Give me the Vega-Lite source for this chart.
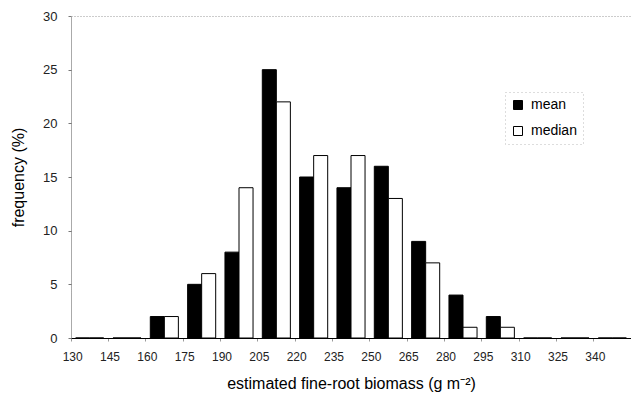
{
  "$schema": "https://vega.github.io/schema/vega-lite/v6.json",
  "width": 560,
  "height": 322,
  "autosize": {"type": "none"},
  "padding": {"left": 71, "top": 16, "right": 0, "bottom": 75},
  "background": "white",
  "data": {
    "values": [
      {"bin": 130, "stat": "mean", "frequency": 0}, {"bin": 130, "stat": "median", "frequency": 0},
      {"bin": 145, "stat": "mean", "frequency": 0}, {"bin": 145, "stat": "median", "frequency": 0},
      {"bin": 160, "stat": "mean", "frequency": 2}, {"bin": 160, "stat": "median", "frequency": 2},
      {"bin": 175, "stat": "mean", "frequency": 5}, {"bin": 175, "stat": "median", "frequency": 6},
      {"bin": 190, "stat": "mean", "frequency": 8}, {"bin": 190, "stat": "median", "frequency": 14},
      {"bin": 205, "stat": "mean", "frequency": 25}, {"bin": 205, "stat": "median", "frequency": 22},
      {"bin": 220, "stat": "mean", "frequency": 15}, {"bin": 220, "stat": "median", "frequency": 17},
      {"bin": 235, "stat": "mean", "frequency": 14}, {"bin": 235, "stat": "median", "frequency": 17},
      {"bin": 250, "stat": "mean", "frequency": 16}, {"bin": 250, "stat": "median", "frequency": 13},
      {"bin": 265, "stat": "mean", "frequency": 9}, {"bin": 265, "stat": "median", "frequency": 7},
      {"bin": 280, "stat": "mean", "frequency": 4}, {"bin": 280, "stat": "median", "frequency": 1},
      {"bin": 295, "stat": "mean", "frequency": 2}, {"bin": 295, "stat": "median", "frequency": 1},
      {"bin": 310, "stat": "mean", "frequency": 0}, {"bin": 310, "stat": "median", "frequency": 0},
      {"bin": 325, "stat": "mean", "frequency": 0}, {"bin": 325, "stat": "median", "frequency": 0},
      {"bin": 340, "stat": "mean", "frequency": 0}, {"bin": 340, "stat": "median", "frequency": 0}
    ]
  },
  "mark": {"type": "bar", "stroke": "black", "strokeWidth": 1},
  "encoding": {
    "x": {
      "field": "bin",
      "type": "ordinal",
      "sort": "ascending",
      "scale": {"paddingInner": 0, "paddingOuter": 0},
      "axis": {
        "title": "estimated fine-root biomass (g m⁻²)",
        "titleFontSize": 16,
        "titleFontWeight": "normal",
        "titleFont": "Liberation Sans",
        "titleColor": "black",
        "titlePadding": 13,
        "bandPosition": 0,
        "labelAngle": 0,
        "labelOffset": -17,
        "labelFont": "Liberation Sans",
        "labelFontSize": 12,
        "labelColor": "#222",
        "labelPadding": 10,
        "tickSize": 3,
        "tickColor": "#999",
        "domainColor": "black",
        "domainWidth": 1,
        "grid": false
      }
    },
    "xOffset": {
      "field": "stat",
      "type": "nominal",
      "sort": ["mean", "median"],
      "scale": {"paddingInner": 0, "paddingOuter": 0.33}
    },
    "y": {
      "field": "frequency",
      "type": "quantitative",
      "scale": {"domain": [0, 30], "nice": false},
      "axis": {
        "title": "frequency (%)",
        "titleFontSize": 16,
        "titleFontWeight": "normal",
        "titleFont": "Liberation Sans",
        "titleColor": "black",
        "titlePadding": 16,
        "values": [0, 5, 10, 15, 20, 25, 30],
        "labelFont": "Liberation Sans",
        "labelFontSize": 13,
        "labelColor": "#222",
        "labelPadding": 11,
        "tickSize": 3,
        "tickColor": "#777",
        "domainColor": "#555",
        "domainDash": [1, 1],
        "grid": true,
        "gridColor": "#999",
        "gridDash": [1, 2],
        "gridOpacity": {"condition": {"test": "datum.value == 30", "value": 1}, "value": 0}
      }
    },
    "fill": {
      "field": "stat",
      "type": "nominal",
      "scale": {"domain": ["mean", "median"], "range": ["black", "white"]},
      "legend": {
        "title": null,
        "orient": "none",
        "legendX": 434,
        "legendY": 76,
        "symbolType": "square",
        "symbolSize": 81,
        "symbolStrokeColor": "black",
        "symbolStrokeWidth": 1,
        "labelFont": "Liberation Sans",
        "labelFontSize": 14,
        "labelColor": "black",
        "labelOffset": 6,
        "rowPadding": 12,
        "padding": 6,
        "strokeColor": "#bbb",
        "encode": {"legend": {"update": {"strokeDash": {"value": [1, 3]}}}}
      }
    }
  },
  "config": {"view": {"stroke": null}}
}
